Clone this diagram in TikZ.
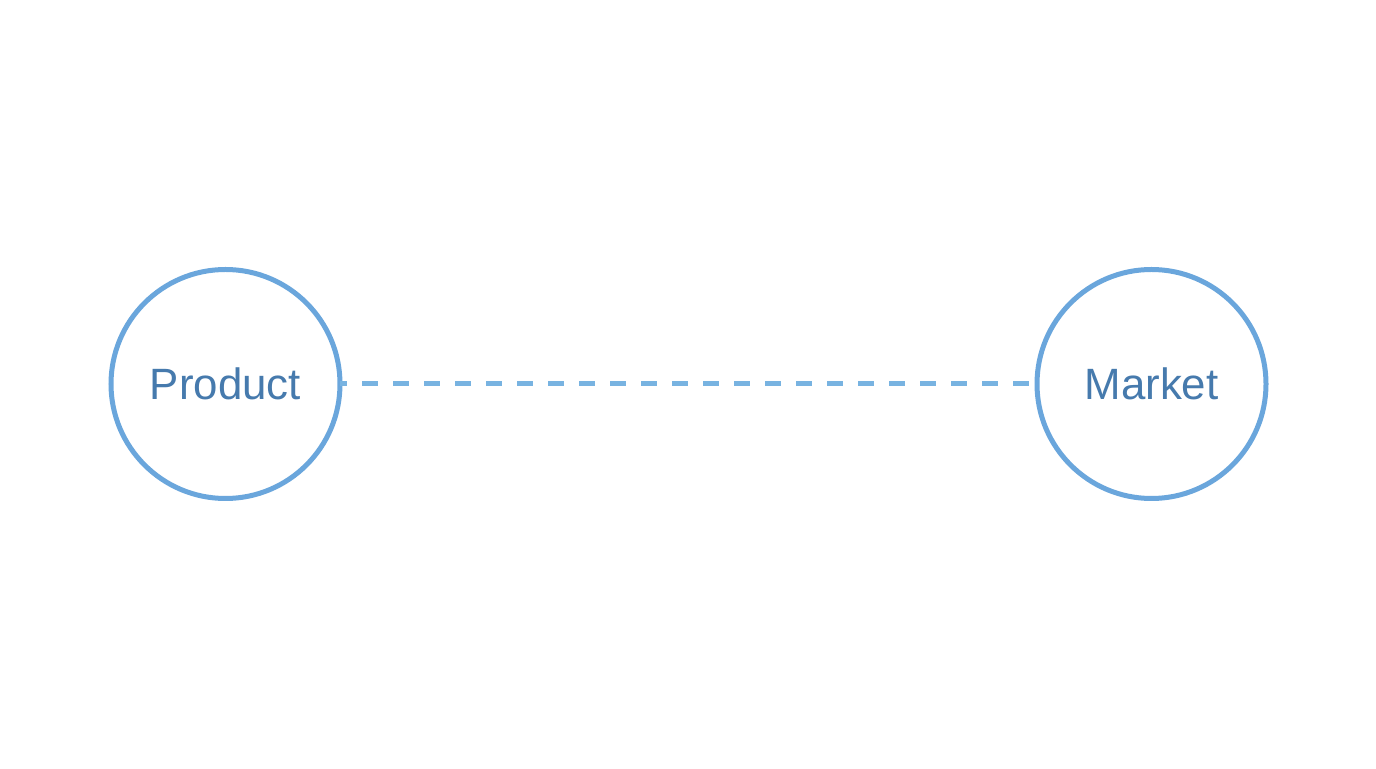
\documentclass[tikz,border=0pt]{standalone}
\usepackage{fontspec}
\setmainfont{Liberation Sans}
\definecolor{ringblue}{HTML}{6AA6DC}
\definecolor{dashblue}{HTML}{78B3E1}
\definecolor{textblue}{HTML}{467AAD}
\begin{document}
\begin{tikzpicture}[x=1bp,y=1bp,
  ring/.style={circle,draw=ringblue,line width=5bp,fill=white,minimum size=229bp,inner sep=0pt,outer sep=0pt,
    text=textblue,font=\fontsize{44}{50}\selectfont},
  link/.style={draw=dashblue,line width=5bp,dash pattern=on 16bp off 15bp,dash phase=9bp}]
\useasboundingbox (0,0) rectangle (1376,768);
\node[ring] (product) at (225.5,384) {Product};
\node[ring] (market) at (1151.5,384) {Market};
\draw[link] (product.east) -- (market.west);
\end{tikzpicture}
\end{document}
